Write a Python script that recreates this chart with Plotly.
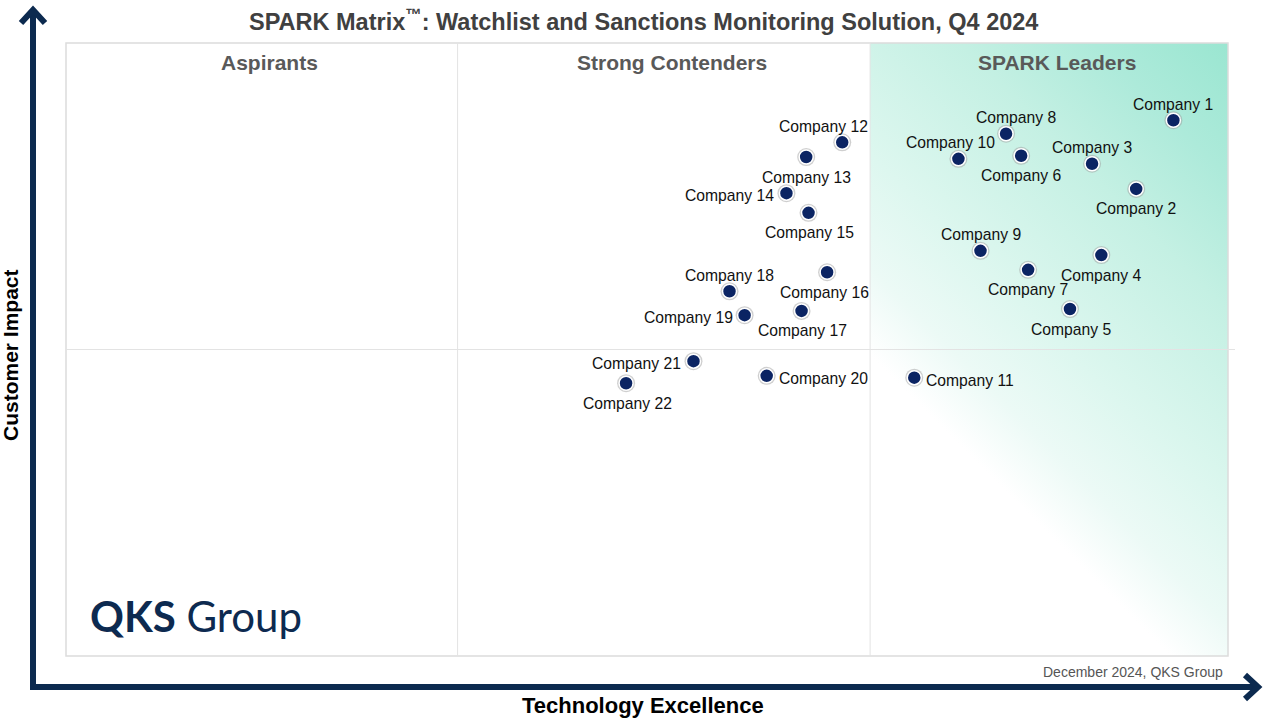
import plotly.graph_objects as go

# SPARK Matrix data
companies = ["Company 1", "Company 2", "Company 3", "Company 4", "Company 5", "Company 6",
             "Company 7", "Company 8", "Company 9", "Company 10", "Company 11", "Company 12",
             "Company 13", "Company 14", "Company 15", "Company 16", "Company 17", "Company 18",
             "Company 19", "Company 20", "Company 21", "Company 22"]
tech_excellence = [95.3, 92.1, 88.3, 89.1, 86.4, 82.2, 82.8, 80.9, 78.7, 76.8, 73.0, 66.8,
                   63.7, 62.0, 63.9, 65.5, 63.3, 57.1, 58.4, 60.3, 54.0, 48.2]
customer_impact = [87.4, 76.2, 80.3, 65.4, 56.6, 81.6, 63.0, 85.2, 66.1, 81.1, 45.4, 83.8,
                   81.4, 75.5, 72.3, 62.6, 56.3, 59.5, 55.6, 45.7, 48.1, 44.5]

quadrants = ["Aspirants", "Strong Contenders", "SPARK Leaders"]
x_splits = [33.7, 69.2]
y_split = 50.0

# where each name sits around its dot: side and small horizontal nudge (px)
label_side = {
    "Company 1": ("top", 0), "Company 2": ("bottom", 0), "Company 3": ("top", 0),
    "Company 4": ("bottom", 0), "Company 5": ("bottom", 1), "Company 6": ("bottom", 0),
    "Company 7": ("bottom", 0), "Company 8": ("top", 10), "Company 9": ("top", 1),
    "Company 10": ("top", -8), "Company 11": ("right", 0), "Company 12": ("top", -19),
    "Company 13": ("bottom", 0), "Company 14": ("left", 0), "Company 15": ("bottom", 1),
    "Company 16": ("bottom", -3), "Company 17": ("bottom", 1), "Company 18": ("top", 0),
    "Company 19": ("left", 0), "Company 20": ("right", 0), "Company 21": ("left", 0),
    "Company 22": ("bottom", 1),
}

NAVY = "#0c2a4f"
DOT = "#0b2463"
FONT = "Liberation Sans, Arial"
W, H = 1280, 720
L, R, T, B = 66, 1228, 43, 656   # plot box in pixels


def px(x):
    return (x - L) / (R - L)


def py(y):
    return (B - y) / (B - T)


fig = go.Figure()

# halo under the dots
fig.add_trace(go.Scatter(
    x=tech_excellence, y=customer_impact, mode="markers",
    marker=dict(size=18, color="rgba(160,160,160,0.5)"),
    hoverinfo="skip", showlegend=False,
))
fig.add_trace(go.Scatter(
    x=tech_excellence, y=customer_impact, mode="markers",
    text=companies, hovertemplate="%{text}<extra></extra>",
    marker=dict(size=14, color=DOT, line=dict(color="white", width=1.5)),
    showlegend=False,
))

anns = []
for name, xv, yv in zip(companies, tech_excellence, customer_impact):
    side, dx = label_side[name]
    a = dict(x=xv, y=yv, xref="x", yref="y", text=name, showarrow=False,
             font=dict(family=FONT, size=15.7, color="#111111"), yanchor="middle")
    if side == "top":
        a.update(xanchor="center", xshift=dx, yshift=16)
    elif side == "bottom":
        a.update(xanchor="center", xshift=dx, yshift=-20)
    elif side == "left":
        a.update(xanchor="right", xshift=-10 + dx, yshift=-2)
    else:
        a.update(xanchor="left", xshift=10 + dx, yshift=-3)
    anns.append(a)

# leaders quadrant gradient (svg, fading from the top right corner)
gw, gh = 358, 613
svg = ("data:image/svg+xml;utf8,"
       f"<svg xmlns='http://www.w3.org/2000/svg' width='{gw}' height='{gh}' preserveAspectRatio='none'>"
       f"<defs><linearGradient id='g' x1='{gw}' y1='0' x2='{gw - 335}' y2='335' gradientUnits='userSpaceOnUse'>"
       "<stop offset='0' stop-color='%239ae6d1'/>"
       "<stop offset='0.2' stop-color='%23adeada'/>"
       "<stop offset='0.4' stop-color='%23c4f0e3'/>"
       "<stop offset='0.7' stop-color='%23ddf7ef'/>"
       "<stop offset='0.87' stop-color='%23ecfaf6'/>"
       "<stop offset='1' stop-color='%23ffffff'/>"
       "</linearGradient></defs>"
       f"<rect width='{gw}' height='{gh}' fill='url(%23g)'/></svg>")
fig.add_layout_image(dict(
    source=svg, xref="x", yref="y", x=x_splits[1], y=100,
    sizex=100 - x_splits[1], sizey=100, sizing="stretch", layer="below",
    xanchor="left", yanchor="top",
))

grid = "#e3e3e3"
shapes = [
    dict(type="rect", xref="paper", yref="paper", x0=0, x1=1, y0=0, y1=1,
         line=dict(color="#dcdcdc", width=1.5)),
    dict(type="line", xref="x", yref="y", x0=x_splits[0], x1=x_splits[0], y0=0, y1=100,
         line=dict(color=grid, width=1)),
    dict(type="line", xref="x", yref="y", x0=x_splits[1], x1=x_splits[1], y0=0, y1=100,
         line=dict(color=grid, width=1)),
    dict(type="line", xref="paper", yref="y", x0=0, x1=px(1235), y0=y_split, y1=y_split,
         line=dict(color=grid, width=1)),
    # axis arrows
    dict(type="line", xref="paper", yref="paper", x0=px(33), x1=px(33), y0=py(690), y1=py(10),
         line=dict(color=NAVY, width=6)),
    dict(type="path", xref="paper", yref="paper",
         path=f"M {px(21)},{py(23)} L {px(33)},{py(10)} L {px(45)},{py(23)}",
         line=dict(color=NAVY, width=6)),
    dict(type="line", xref="paper", yref="paper", x0=px(30), x1=px(1258), y0=py(687), y1=py(687),
         line=dict(color=NAVY, width=6)),
    dict(type="path", xref="paper", yref="paper",
         path=f"M {px(1245)},{py(675)} L {px(1258)},{py(687)} L {px(1245)},{py(699)}",
         line=dict(color=NAVY, width=6)),
]

quad_x = [(0 + x_splits[0]) / 2, (x_splits[0] + x_splits[1]) / 2, (x_splits[1] + 100) / 2]
for q, qx in zip(quadrants, quad_x):
    anns.append(dict(x=qx, y=py(62), xref="x", yref="paper", text=f"<b>{q}</b>", showarrow=False,
                     xanchor="center", yanchor="middle", xshift=8,
                     font=dict(family=FONT, size=21, color="#595959")))

anns += [
    dict(x=px(643), y=py(20), xref="paper", yref="paper", showarrow=False,
         xanchor="center", yanchor="middle",
         text="<b>SPARK Matrix<sup>™</sup>: Watchlist and Sanctions Monitoring Solution, Q4 2024</b>",
         font=dict(family=FONT, size=23.5, color="#404040")),
    dict(x=px(10), y=py(355), xref="paper", yref="paper", showarrow=False, textangle=-90,
         xanchor="center", yanchor="middle",
         text="<b>Customer Impact</b>",
         font=dict(family=FONT, size=21, color="#000000")),
    dict(x=px(643), y=py(705), xref="paper", yref="paper", showarrow=False,
         xanchor="center", yanchor="middle",
         text="<b>Technology Excellence</b>",
         font=dict(family=FONT, size=22, color="#000000")),
    dict(x=px(1225), y=py(672), xref="paper", yref="paper", showarrow=False,
         xanchor="right", yanchor="middle",
         text="December 2024, QKS Group",
         font=dict(family=FONT, size=14, color="#555555")),
    dict(x=px(88), y=py(616), xref="paper", yref="paper", showarrow=False,
         xanchor="left", yanchor="middle",
         text="<b>QKS</b> Group",
         font=dict(family="Lato", size=42, color="#0d2a50")),
]

fig.update_layout(
    width=W, height=H,
    margin=dict(l=L, r=W - R, t=T, b=H - B),
    paper_bgcolor="white", plot_bgcolor="white",
    xaxis=dict(range=[0, 100], visible=False, fixedrange=True),
    yaxis=dict(range=[0, 100], visible=False, fixedrange=True),
    shapes=shapes, annotations=anns,
    font=dict(family=FONT),
)

fig.write_html("out.html", config={"displayModeBar": False},
               post_script="document.body.style.margin='0';")
